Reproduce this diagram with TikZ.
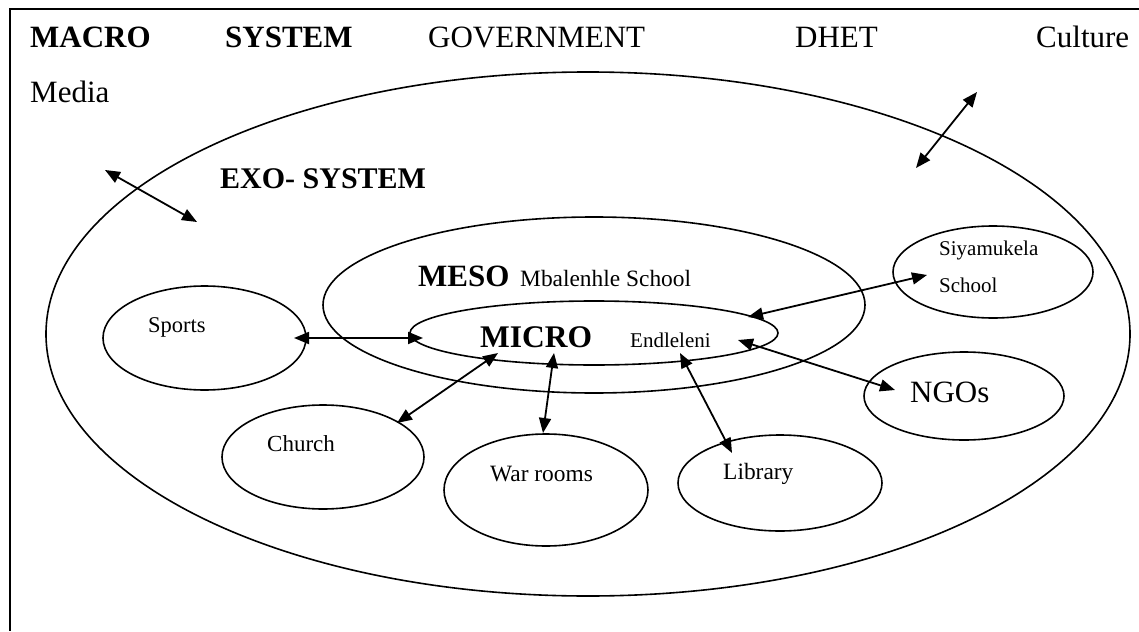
\documentclass[tikz,border=0pt]{standalone}
\usepackage{fontspec}
\setmainfont{Liberation Serif}
\usetikzlibrary{shapes.geometric,arrows.meta}
\tikzset{
  ell/.style={draw, ellipse, line width=1.6pt, inner sep=0pt},
  lbl/.style={anchor=base west, inner sep=0pt},
  link/.style={line width=1.8pt, {Triangle[length=15pt,width=12pt]}-{Triangle[length=15pt,width=12pt]}},
  frameline/.style={line width=1.3pt}
}
\newcommand{\fs}[1]{\fontsize{#1}{#1}\selectfont}
\begin{document}
\begin{tikzpicture}[x=1pt,y=-1pt]
\useasboundingbox (0,0) rectangle (1139,631);
% frame
\coordinate (fTL) at (10,9);
\coordinate (fTR) at (1139,9);
\coordinate (fBL) at (10,631);
\draw[frameline] (fTR) -- (fTL) -- (fBL);
% title row
\node[lbl] (macro) at (30,48) {\fs{31}\bfseries MACRO};
\node[lbl] (system) at (225,48) {\fs{31}\bfseries SYSTEM};
\node[lbl] (gov) at (428,48) {\fs{31}GOVERNMENT};
\node[lbl] (dhet) at (795,48) {\fs{31}DHET};
\node[lbl] (culture) at (1036,48) {\fs{31}Culture};
\node[lbl] (media) at (30,103) {\fs{31}Media};
% ellipses
\node[ell, minimum width=1084pt, minimum height=524pt] (exo) at (588,334) {};
\node[ell, minimum width=542pt, minimum height=176pt] (meso) at (594,305) {};
\node[ell, minimum width=368pt, minimum height=64pt] (micro) at (594,333) {};
\node[ell, minimum width=203pt, minimum height=104pt] (sports) at (204.5,338) {};
\node[ell, minimum width=202pt, minimum height=104pt] (church) at (323,457) {};
\node[ell, minimum width=204pt, minimum height=112pt] (war) at (546,490) {};
\node[ell, minimum width=204pt, minimum height=96pt] (library) at (780,483) {};
\node[ell, minimum width=200pt, minimum height=92pt] (siya) at (993,272) {};
\node[ell, minimum width=200pt, minimum height=88pt] (ngos) at (964,396) {};
% labels
\node[lbl] (exot) at (220,189) {\fs{30}\bfseries EXO- SYSTEM};
\node[lbl] (mesot) at (418,286) {\fs{31}\bfseries MESO};
\node[lbl] (mbal) at (520,286) {\fs{23.4}Mbalenhle School};
\node[lbl] (microt) at (480,347) {\fs{31.5}\bfseries MICRO};
\node[lbl] (endl) at (630,347) {\fs{21}Endleleni};
\node[lbl] (sportst) at (148,332) {\fs{22.5}Sports};
\node[lbl] (churcht) at (267,451) {\fs{23}Church};
\node[lbl] (wart) at (490,481) {\fs{23.4}War rooms};
\node[lbl] (libt) at (723,479) {\fs{23.4}Library};
\node[lbl] (siyat) at (939,255) {\fs{21}Siyamukela};
\node[lbl] (schoolt) at (939,292) {\fs{21}School};
\node[lbl] (ngost) at (910,402) {\fs{31}NGOs};
% arrow end points
\coordinate (aS1) at (294,338);  \coordinate (aS2) at (423,338);
\coordinate (aC1) at (397,423);  \coordinate (aC2) at (498,353);
\coordinate (aW1) at (543,433);  \coordinate (aW2) at (554,353);
\coordinate (aL1) at (732,453);  \coordinate (aL2) at (680,353);
\coordinate (aY1) at (748,317);  \coordinate (aY2) at (927,275);
\coordinate (aN1) at (738,340);  \coordinate (aN2) at (895,390);
\coordinate (aE1) at (105,170);  \coordinate (aE2) at (197,222);
\coordinate (aR1) at (977,92);   \coordinate (aR2) at (916,168);
\draw[link] (aS1) -- (aS2);
\draw[link] (aC1) -- (aC2);
\draw[link] (aW1) -- (aW2);
\draw[link] (aL1) -- (aL2);
\draw[link] (aY1) -- (aY2);
\draw[link] (aN1) -- (aN2);
\draw[link] (aE1) -- (aE2);
\draw[link] (aR1) -- (aR2);
\end{tikzpicture}
\end{document}
